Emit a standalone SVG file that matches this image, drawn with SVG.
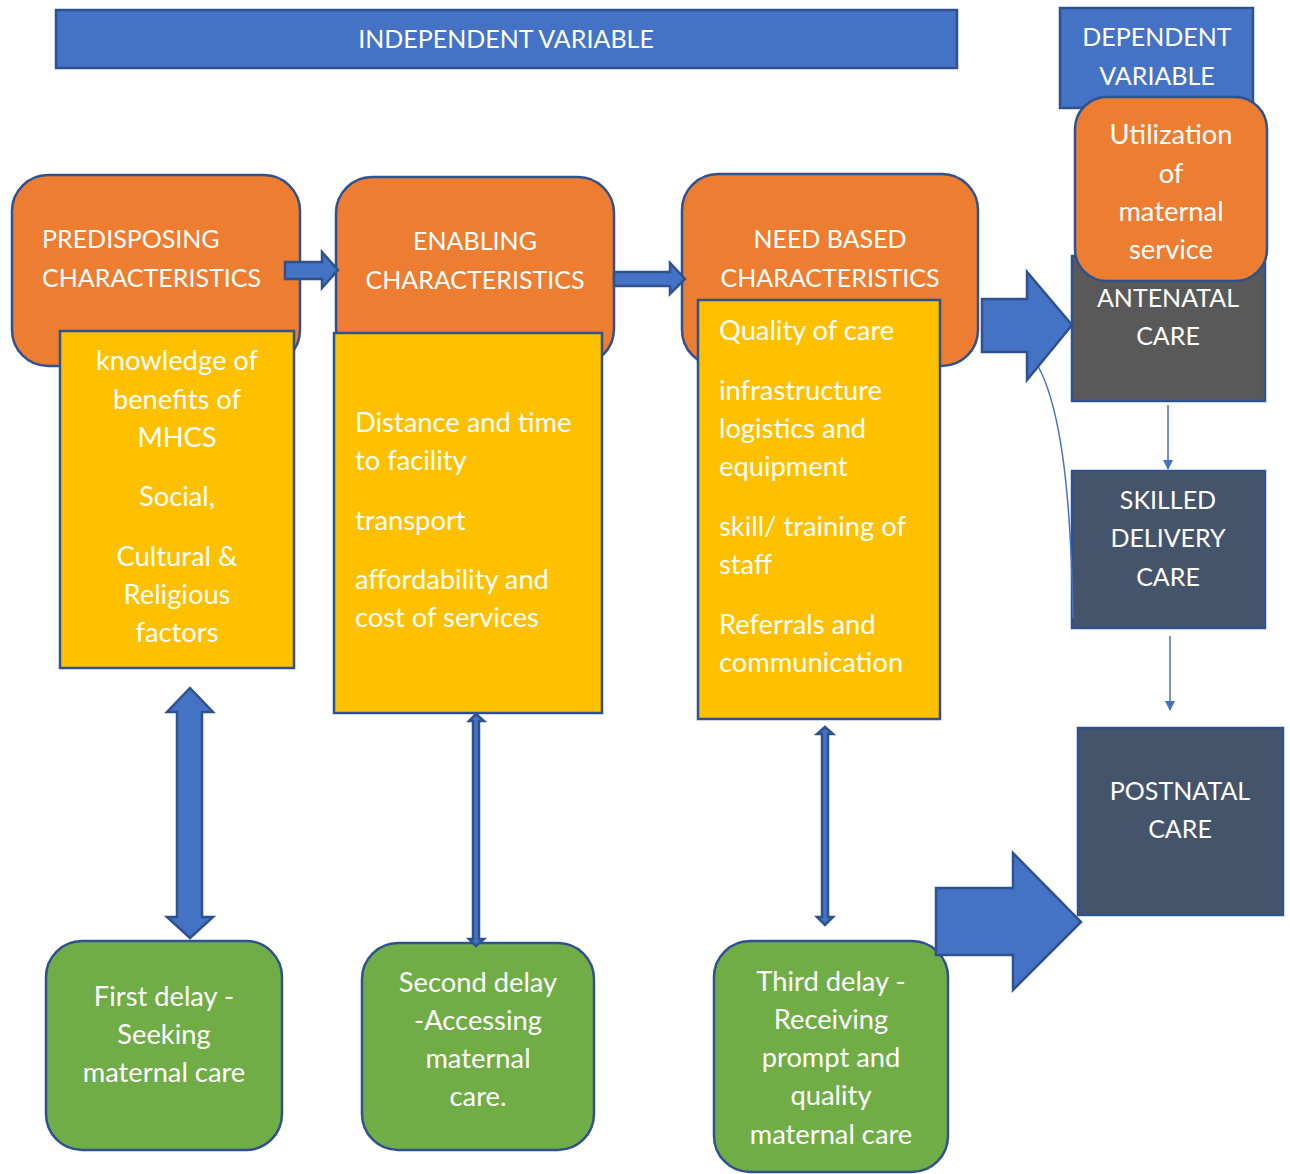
<svg xmlns="http://www.w3.org/2000/svg" width="1290" height="1174" viewBox="0 0 1290 1174">
<style>
text{font-family:Lato,"Open Sans","Liberation Sans",sans-serif;font-size:25px;fill:#FFFFFF}
text.m{font-size:27.3px}
.c{text-anchor:middle}
.blue{fill:#4472C4;stroke:#2F528F;stroke-width:2.5}
.orange{fill:#ED7D31;stroke:#2F528F;stroke-width:2.5}
.yellow{fill:#FFC000;stroke:#2F528F;stroke-width:2.5}
.green{fill:#70AD47;stroke:#2F528F;stroke-width:2.5}
.slate{fill:#44546A;stroke:#2F528F;stroke-width:2.5}
.gray{fill:#595959;stroke:#2F528F;stroke-width:2.5}
.thin{fill:none;stroke:#4472C4;stroke-width:1.5}
</style>
<defs>
<marker id="tri" markerWidth="10" markerHeight="10" refX="9" refY="5" orient="auto" markerUnits="userSpaceOnUse" viewBox="0 0 10 10">
<path d="M0,0 L10,5 L0,10 Z" fill="#4472C4"/>
</marker>
</defs>

<g id="independent-variable">
<rect class="blue" x="56" y="10" width="901" height="58"/>
<text class="c" x="506" y="48">INDEPENDENT VARIABLE</text>
</g>

<g id="dependent-variable">
<rect class="blue" x="1060" y="8" width="193" height="100"/>
<text class="c" x="1157" y="46">DEPENDENT</text>
<text class="c" x="1157" y="85">VARIABLE</text>
</g>

<g id="antenatal-care">
<rect class="gray" x="1072" y="256" width="193" height="145"/>
<text class="c" x="1168" y="307">ANTENATAL</text>
<text class="c" x="1168" y="345">CARE</text>
</g>

<g id="utilization">
<rect class="orange" x="1075" y="97" width="192" height="184" rx="32"/>
<text class="c m" x="1171" y="144">Utilization</text>
<text class="c m" x="1171" y="183">of</text>
<text class="c m" x="1171" y="221">maternal</text>
<text class="c m" x="1171" y="259">service</text>
</g>

<g id="skilled-delivery-care">
<rect class="slate" x="1072" y="471" width="193" height="157"/>
<text class="c" x="1168" y="509">SKILLED</text>
<text class="c" x="1168" y="547">DELIVERY</text>
<text class="c" x="1168" y="586">CARE</text>
</g>

<g id="postnatal-care">
<rect class="slate" x="1078" y="728" width="205" height="187"/>
<text class="c" x="1180" y="800">POSTNATAL</text>
<text class="c" x="1180" y="838">CARE</text>
</g>

<g id="predisposing">
<rect class="orange" x="12" y="175" width="288" height="191" rx="36"/>
<text x="42" y="248">PREDISPOSING</text>
<text x="42" y="287">CHARACTERISTICS</text>
</g>

<g id="predisposing-factors">
<rect class="yellow" x="60" y="331" width="234" height="337"/>
<text class="c m" x="177" y="370">knowledge of</text>
<text class="c m" x="177" y="409">benefits of</text>
<text class="c m" x="177" y="447">MHCS</text>
<text class="c m" x="177" y="506">Social,</text>
<text class="c m" x="177" y="566">Cultural &amp;</text>
<text class="c m" x="177" y="604">Religious</text>
<text class="c m" x="177" y="642">factors</text>
</g>

<g id="enabling">
<rect class="orange" x="336" y="177" width="278" height="188" rx="36"/>
<text class="c" x="475" y="250">ENABLING</text>
<text class="c" x="475" y="289">CHARACTERISTICS</text>
</g>

<g id="enabling-factors">
<rect class="yellow" x="334" y="333" width="268" height="380"/>
<text class="m" x="355" y="432">Distance and time</text>
<text class="m" x="355" y="470">to facility</text>
<text class="m" x="355" y="530">transport</text>
<text class="m" x="355" y="589">affordability and</text>
<text class="m" x="355" y="627">cost of services</text>
</g>

<g id="need-based">
<rect class="orange" x="682" y="174" width="296" height="192" rx="36"/>
<text class="c" x="830" y="248">NEED BASED</text>
<text class="c" x="830" y="287">CHARACTERISTICS</text>
</g>

<g id="need-factors">
<rect class="yellow" x="698" y="300" width="242" height="419"/>
<text class="m" x="719" y="340">Quality of care</text>
<text class="m" x="719" y="400">infrastructure</text>
<text class="m" x="719" y="438">logistics and</text>
<text class="m" x="719" y="476">equipment</text>
<text class="m" x="719" y="536">skill/ training of</text>
<text class="m" x="719" y="574">staff</text>
<text class="m" x="719" y="634">Referrals and</text>
<text class="m" x="719" y="672">communication</text>
</g>

<g id="first-delay">
<rect class="green" x="46" y="941" width="236" height="209" rx="36"/>
<text class="c m" x="164" y="1006">First delay -</text>
<text class="c m" x="164" y="1044">Seeking</text>
<text class="c m" x="164" y="1082">maternal care</text>
</g>

<g id="second-delay">
<rect class="green" x="362" y="943" width="232" height="207" rx="36"/>
<text class="c m" x="478" y="992">Second delay</text>
<text class="c m" x="478" y="1030">-Accessing</text>
<text class="c m" x="478" y="1068">maternal</text>
<text class="c m" x="478" y="1106">care.</text>
</g>

<g id="third-delay">
<rect class="green" x="714" y="941" width="234" height="231" rx="36"/>
<text class="c m" x="831" y="991">Third delay -</text>
<text class="c m" x="831" y="1029">Receiving</text>
<text class="c m" x="831" y="1067">prompt and</text>
<text class="c m" x="831" y="1105">quality</text>
<text class="c m" x="831" y="1144">maternal care</text>
</g>

<g id="connectors">
<path class="blue" d="M285,262 L322,262 L322,252 L338,270 L322,288 L322,279 L285,279 Z"/>
<path class="blue" d="M614,272 L670,272 L670,263 L685,279 L670,294 L670,286 L614,286 Z"/>
<path class="thin" d="M1038,366 C1062,410 1071,500 1073,618"/>
<path class="blue" d="M982,299 L1027,299 L1027,272 L1072,325 L1027,380 L1027,352 L982,352 Z"/>
<path class="blue" d="M936,888 L1013,888 L1013,853 L1081,922 L1013,990 L1013,955 L936,955 Z"/>
<line class="thin" x1="1168" y1="405" x2="1168" y2="469" marker-end="url(#tri)"/>
<line class="thin" x1="1170" y1="636" x2="1170" y2="710" marker-end="url(#tri)"/>
<path class="blue" d="M190,688 L213,712 L202,712 L202,917 L213,917 L190,938 L167,917 L177,917 L177,712 L167,712 Z"/>
<path class="blue" stroke-width="1.5" d="M476,714 L484,721 L479,721 L479,939 L484,939 L476,946 L469,939 L473,939 L473,721 L469,721 Z"/>
<path class="blue" stroke-width="1.5" d="M825,727 L833,734 L828,734 L828,917 L833,917 L825,925 L817,917 L822,917 L822,734 L817,734 Z"/>
</g>
</svg>
